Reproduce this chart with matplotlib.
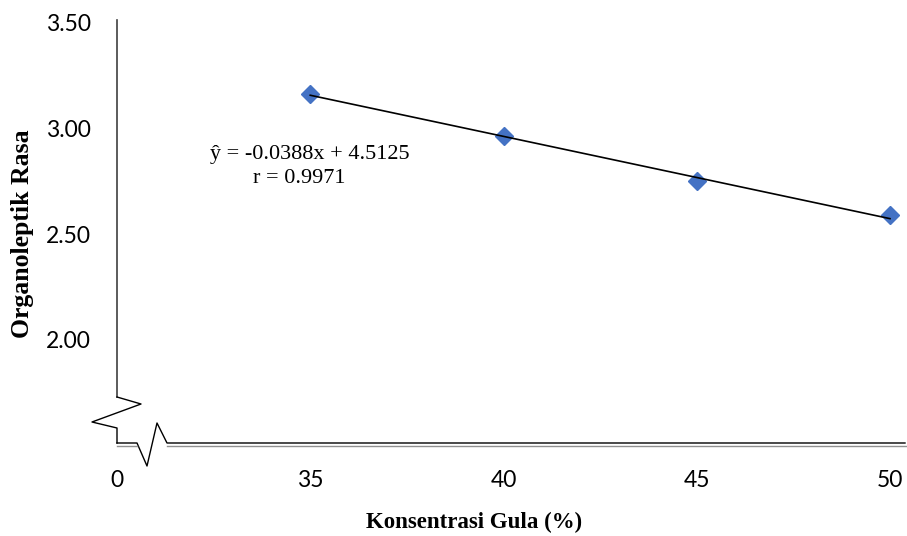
import matplotlib
matplotlib.use('Agg')
import matplotlib.pyplot as plt
import numpy as np

# sugar concentration (%) and mean taste score
konsentrasi = [35, 40, 45, 50]
rasa = [3.16, 2.96, 2.75, 2.59]

# regression reported for the taste score
slope = -0.0388
intercept = 4.5125
r_value = 0.9971

x_ticks = [30, 35, 40, 45, 50]
x_ticklabels = ['0', '35', '40', '45', '50']
y_ticks = [2.0, 2.5, 3.0, 3.5]

W, H = 907, 536
fig = plt.figure(figsize=(W / 100, H / 100), dpi=100)

# main axes placed so the broken axis lines can be drawn around it
ax = fig.add_axes([117 / W, 1 - 444 / H, 790 / W, 426 / H])
ax.set_xlim(30, 30 + 790 / 38.65)
ax.set_ylim(3.5 - 422 / 212, 3.5 + 4 / 212)

for s in ax.spines.values():
    s.set_visible(False)

tick_font = {'family': 'Lato', 'size': 16.5}
ax.set_xticks(x_ticks)
ax.set_xticklabels(x_ticklabels, fontdict=tick_font)
ax.set_yticks(y_ticks)
ax.set_yticklabels(['%.2f' % v for v in y_ticks], fontdict=tick_font)
ax.tick_params(axis='both', length=0)
ax.tick_params(axis='x', pad=19)
ax.tick_params(axis='y', pad=19)

# regression line and data points
xs = np.array([konsentrasi[0], konsentrasi[-1]])
ax.plot(xs, slope * xs + intercept, color='black', lw=1.2, zorder=3)
ax.plot(konsentrasi, rasa, linestyle='none', marker='D', markersize=9.5,
        color='#4472C4', zorder=2)

eq_font = {'family': 'Liberation Serif', 'size': 16}
ax.text(32.41, 2.873, 'ŷ = %.4fx + %.4f' % (slope, intercept), va='center', ha='left', fontdict=eq_font)
ax.text(33.52, 2.764, 'r = %.4f' % r_value, va='center', ha='left', fontdict=eq_font)

ax.set_xlabel('Konsentrasi Gula (%)', family='Liberation Serif', fontsize=16.5, fontweight='bold')
ax.xaxis.set_label_coords(0.4525, -0.185)
ax.xaxis.label.set_va('center')
ax.set_ylabel('Organoleptik Rasa', family='Liberation Serif', fontsize=18.5, fontweight='bold')
ax.yaxis.set_label_coords(-0.120, 0.494)
ax.yaxis.label.set_va('center')

# overlay in pixel units for the axis lines with break marks
ov = fig.add_axes([0, 0, 1, 1])
ov.set_xlim(0, W)
ov.set_ylim(H, 0)
ov.axis('off')
ov.patch.set_alpha(0)

ov.plot([117, 117], [20, 397], color='#404040', lw=1.2)
ov.plot([117, 141, 92, 117, 117], [397, 404, 422, 428, 443], color='black', lw=1.0)
ov.plot([117, 137, 147, 157, 167, 905], [443, 443, 466, 423, 443, 443], color='black', lw=1.0)
ov.plot([117, 137], [445.5, 445.5], color='#909090', lw=1.0)
ov.plot([167, 908], [445.5, 445.5], color='#909090', lw=1.0)

fig.savefig('out.png', dpi=100)
